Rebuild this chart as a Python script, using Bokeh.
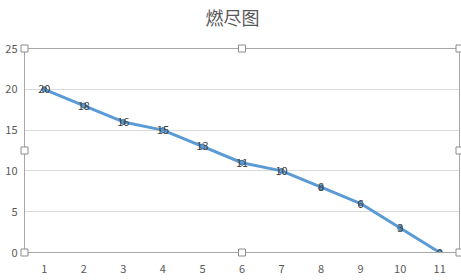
from bokeh.plotting import figure
from bokeh.models import ColumnDataSource, Range1d, FixedTicker, Title
from bokeh.core.properties import value
from bokeh.embed import file_html
from bokeh.resources import INLINE

# Burndown: remaining work per day
days = [1, 2, 3, 4, 5, 6, 7, 8, 9, 10, 11]
remaining = [20, 18, 16, 15, 13, 11, 10, 8, 6, 3, 0]
y_ticks = [0, 5, 10, 15, 20, 25]
chart_title = "燃尽图"

FONT = "Noto Sans CJK SC"
TEXT = "#595959"

p = figure(width=461, height=280, output_backend="svg", toolbar_location=None,
           x_range=Range1d(0.5, 11.5), y_range=Range1d(0, 25),
           min_border_left=24, min_border_right=2, min_border_top=48,
           min_border_bottom=28)
# title centred over the whole chart rather than the plot area
p.title = Title(text=chart_title, align="left", offset=181, text_font=FONT,
                text_font_size="18px", text_font_style="normal",
                text_color=TEXT, standoff=0)
# blank line that keeps the title clear of the plot area
p.add_layout(Title(text=" ", text_font_size="15px", standoff=0), "above")

p.background_fill_color = "white"
p.border_fill_color = "white"
p.outline_line_color = "#a6a6a6"

p.xgrid.visible = False
p.ygrid.grid_line_color = "#d9d9d9"
p.ygrid.ticker = FixedTicker(ticks=y_ticks)

for ax in (p.xaxis[0], p.yaxis[0]):
    ax.axis_line_color = "#a6a6a6"
    ax.major_tick_line_color = None
    ax.minor_tick_line_color = None
    ax.major_tick_out = 0
    ax.major_tick_in = 0
    ax.major_label_text_font = FONT
    ax.major_label_text_font_size = "11px"
    ax.major_label_text_color = TEXT

p.xaxis.ticker = FixedTicker(ticks=days)
p.yaxis.ticker = FixedTicker(ticks=y_ticks)
p.xaxis.major_label_standoff = 12
p.yaxis.major_label_standoff = 7

src = ColumnDataSource(dict(x=days, y=remaining, lbl=[str(v) for v in remaining]))
p.line("x", "y", source=src, line_color="#5B9BD5", line_width=3)
p.scatter("x", "y", source=src, size=5, fill_color="#5B9BD5",
          line_color="#41719C")
p.text("x", "y", text="lbl", source=src, text_align="center",
       text_baseline="middle", text_font=value(FONT),
       text_font_size="11px", text_color="#404040")

# plot-area selection handles on the frame corners and edge midpoints
x0, x1 = p.x_range.start, p.x_range.end
y0, y1 = p.y_range.start, p.y_range.end
xm, ym = (x0 + x1) / 2, (y0 + y1) / 2
hx = [x0, xm, x1, x0, x1, x0, xm, x1]
hy = [y1, y1, y1, ym, ym, y0, y0, y0]
p.scatter(hx, hy, marker="square", size=7, fill_color="white",
          line_color="#8c8c8c", line_width=1, level="overlay")

open("out.html", "w").write(file_html(p, INLINE))
